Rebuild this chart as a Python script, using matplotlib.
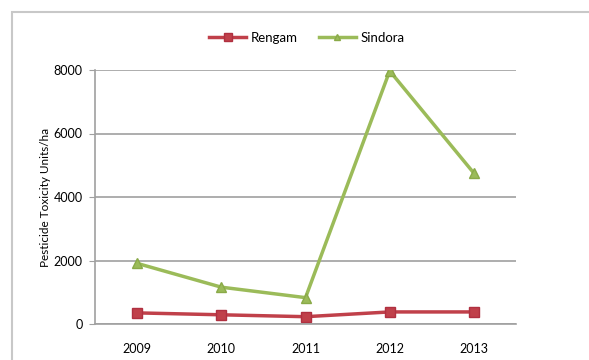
import matplotlib
matplotlib.use("Agg")
import matplotlib.pyplot as plt
from matplotlib.patches import Rectangle

years = ["2009", "2010", "2011", "2012", "2013"]
rengam = [350, 290, 230, 380, 380]
sindora = [1910, 1160, 830, 7970, 4750]
yticks = [0, 2000, 4000, 6000, 8000]

plt.rcParams['font.family'] = ['Lato', 'DejaVu Sans']

W, H = 589, 360
fig = plt.figure(figsize=(W / 100, H / 100), dpi=100)
ax = fig.add_axes([95 / W, 1 - 324 / H, (516 - 95) / W, (324 - 70) / H])

# outer chart border
fig.patches.append(Rectangle((12 / W, -0.1), 1.2, 1 - 12 / H + 0.1, transform=fig.transFigure,
                             fill=False, edgecolor='#c8c8c8', linewidth=1.5))

x = list(range(len(years)))
ax.plot(x, rengam, color='#C0404A', linewidth=2.5, marker='s', markersize=7.5,
        markerfacecolor='#C0404A', markeredgecolor='#B03040', label='Rengam')
ax.plot(x, sindora, color='#9BBB59', linewidth=2.5, marker='^', markersize=6.5,
        markerfacecolor='#9BBB59', markeredgecolor='#8AAA48', label='Sindora')

ax.set_xlim(-0.5, len(years) - 0.5)
ax.set_ylim(0, 8000)
ax.set_xticks(x)
ax.set_xticklabels(years)
ax.set_yticks(yticks)
ax.set_yticklabels([str(v) for v in yticks])
ax.yaxis.grid(True, color='#a0a0a0', linewidth=1.2)
ax.set_axisbelow(True)
for s in ['top', 'right']:
    ax.spines[s].set_visible(False)
for s in ['left', 'bottom']:
    ax.spines[s].set_color('#a0a0a0')
    ax.spines[s].set_linewidth(1.2)
ax.tick_params(axis='y', length=4, color='#a0a0a0', labelsize=9, pad=5)
ax.tick_params(axis='x', length=0, labelsize=9, pad=14)
ax.set_ylabel('Pesticide Toxicity Units/ha', fontsize=8.5, labelpad=2)

fig.legend(loc='center', bbox_to_anchor=(307 / W, 1 - 38 / H), ncol=2, frameon=False,
           fontsize=9.5, handlelength=2.8, columnspacing=1.6, handletextpad=0.35,
           markerscale=0.75)

fig.savefig('out.png', dpi=100)
